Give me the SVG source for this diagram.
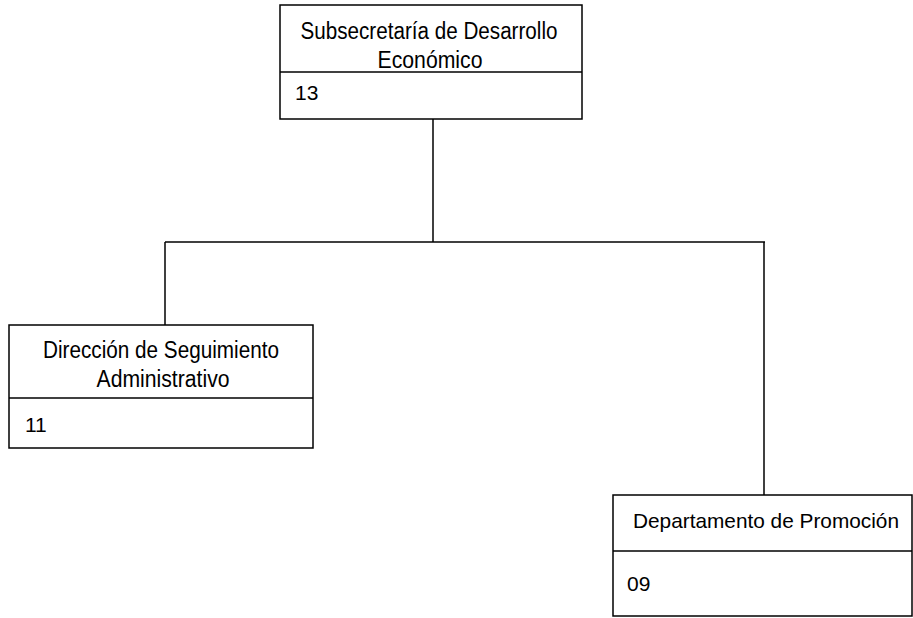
<svg xmlns="http://www.w3.org/2000/svg" width="913" height="618" viewBox="0 0 913 618">
<style>
rect.box{fill:#fff;stroke:#000;stroke-width:1.5}
line{stroke:#000;stroke-width:1.5}
text{font-family:"Liberation Sans",Arial,sans-serif;font-size:23px;fill:#000}
text.n{font-size:21px}
text.s{font-size:21px}
.c{text-anchor:middle}
</style>
<rect width="913" height="618" fill="#fff"/>
<g id="connectors">
<line x1="433" y1="119" x2="433" y2="242"/>
<line x1="165" y1="242" x2="765" y2="242"/>
<line x1="165" y1="242" x2="165" y2="325"/>
<line x1="764" y1="242" x2="764" y2="495"/>
</g>
<g id="n1">
<rect class="box" x="280" y="5" width="302" height="114"/>
<line x1="280" y1="72" x2="582" y2="72"/>
<text class="c" x="429" y="39" textLength="257" lengthAdjust="spacingAndGlyphs">Subsecretaría de Desarrollo</text>
<text class="c" x="430" y="68" textLength="105" lengthAdjust="spacingAndGlyphs">Económico</text>
<text class="n" x="295" y="100">13</text>
</g>
<g id="n2">
<rect class="box" x="9" y="325" width="304" height="123"/>
<line x1="9" y1="398" x2="313" y2="398"/>
<text class="c" x="161" y="358" textLength="236" lengthAdjust="spacingAndGlyphs">Dirección de Seguimiento</text>
<text class="c" x="163" y="387" textLength="133" lengthAdjust="spacingAndGlyphs">Administrativo</text>
<text class="n" x="25" y="432">11</text>
</g>
<g id="n3">
<rect class="box" x="613" y="495" width="299" height="121"/>
<line x1="613" y1="551" x2="912" y2="551"/>
<text class="c s" x="766" y="528" textLength="266" lengthAdjust="spacingAndGlyphs">Departamento de Promoción</text>
<text class="n" x="627" y="591">09</text>
</g>
</svg>
